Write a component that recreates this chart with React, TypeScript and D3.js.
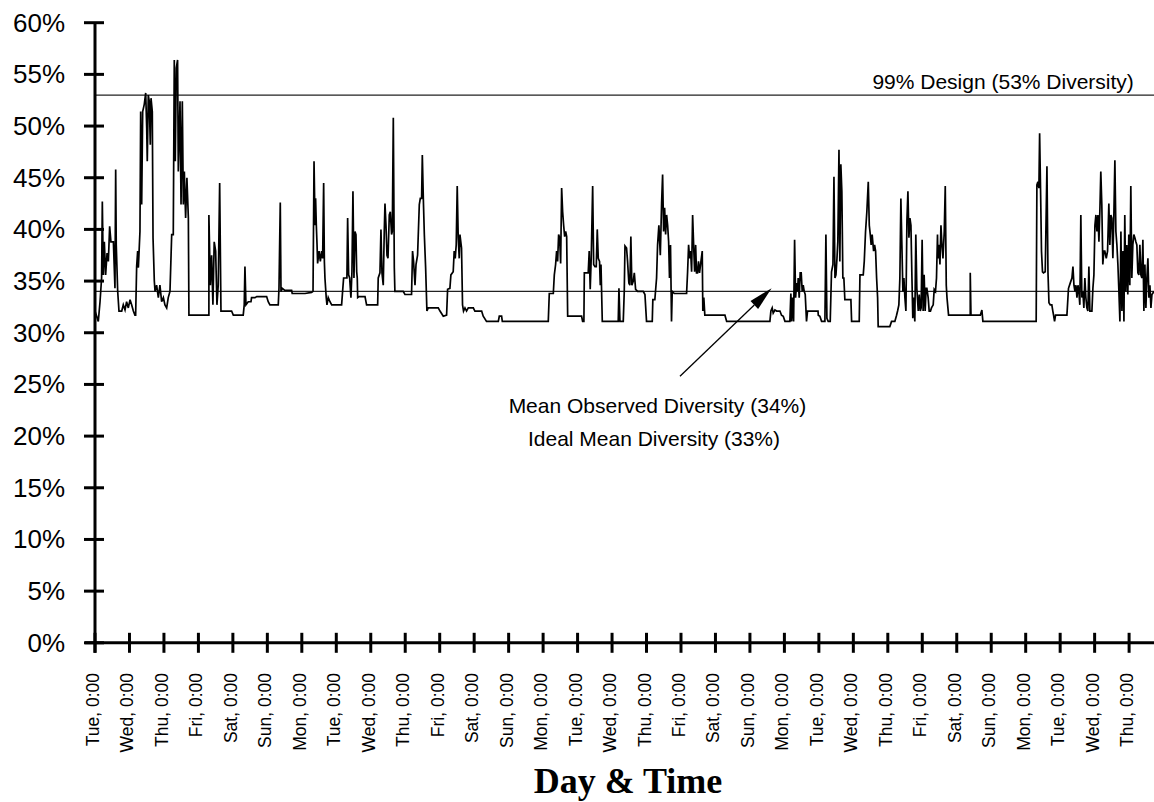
import * as d3 from "d3";
import React from "react";

// [hours since Tue 0:00, diversity %]
const weekOne: [number, number][] = [
  [0, 32.1], [2.3, 31.1], [3.5, 33.0], [4.6, 35.3], [5.1, 42.7], [5.8, 35.6], [6.5, 38.8], [7.4, 35.6],
  [8.4, 37.7], [9.3, 36.9], [10.2, 40.3], [11.1, 38.8], [12.8, 38.8], [13.9, 34.3], [14.4, 45.8], [14.8, 38.5],
  [15.8, 34.0], [16.7, 32.1], [18.6, 32.1], [19.7, 32.7], [20.9, 32.2], [22.0, 33.0], [23.2, 32.4], [24.4, 33.2],
  [25.5, 32.7], [26.7, 32.1], [27.8, 31.7], [28.3, 31.7], [29.0, 36.4], [29.7, 37.9], [30.2, 36.3], [31.3, 39.8],
  [31.8, 51.4], [32.5, 42.4], [33.2, 51.4], [34.3, 52.1], [35.3, 53.2], [36.0, 49.8], [36.4, 46.6], [37.1, 53.0],
  [37.8, 52.4], [38.5, 48.2], [39.0, 52.7], [39.9, 51.4], [40.4, 39.2], [41.3, 35.0], [41.8, 34.0], [42.9, 34.6],
  [44.1, 33.4], [45.2, 34.6], [46.4, 33.0], [47.6, 33.4], [48.7, 32.7], [49.9, 32.4], [51.0, 33.4], [52.2, 34.0],
  [53.4, 39.5], [54.5, 39.5], [55.2, 56.4], [55.9, 46.6], [56.6, 55.6], [57.5, 56.4], [58.0, 45.6], [59.2, 52.4],
  [59.9, 42.4], [60.8, 52.4], [61.5, 42.4], [62.2, 45.6], [63.1, 41.1], [64.0, 45.0], [65.0, 41.1], [65.4, 31.7],
  [79.3, 31.7], [79.3, 41.4], [80.3, 34.6], [81.2, 37.5], [82.1, 32.7], [83.0, 38.8], [84.0, 37.9], [84.9, 32.7],
  [85.8, 34.6], [86.8, 44.5], [87.7, 32.1], [95.1, 32.1], [96.3, 31.7], [103.2, 31.7], [103.9, 32.7], [104.4, 36.4],
  [105.1, 32.7], [106.7, 33.0], [108.6, 33.0], [109.0, 33.4], [111.4, 33.4], [112.6, 33.5], [119.5, 33.5], [120.6, 33.0],
  [121.8, 32.7], [127.6, 32.7], [128.1, 34.3], [129.0, 42.6], [129.5, 34.0], [130.4, 34.3], [132.2, 34.1], [136.9, 34.1],
  [137.3, 33.8],
];

const weekTwo: [number, number][] = [
  [146.2, 33.8], [150.8, 33.9], [151.8, 34.0], [152.5, 46.6], [153.2, 40.4], [153.6, 43.0], [154.1, 40.4], [154.6, 38.5],
  [155.0, 36.7], [156.0, 37.9], [156.9, 36.9], [157.8, 37.9], [158.5, 37.2], [159.2, 44.5], [159.7, 36.9], [160.1, 35.3],
  [161.0, 33.4], [161.5, 32.7], [162.4, 33.4], [163.6, 33.0], [164.8, 32.7], [171.7, 32.7], [172.4, 34.0], [173.1, 35.3],
  [175.4, 35.3], [175.9, 41.1], [176.6, 35.6], [177.3, 35.3], [178.2, 33.4], [178.9, 35.9], [179.6, 43.7], [180.3, 35.3],
  [181.0, 39.8], [181.7, 39.5], [182.2, 35.9], [182.6, 35.3], [182.9, 33.4], [183.8, 33.5], [188.0, 33.5], [189.1, 32.7],
  [196.8, 32.7], [197.2, 35.3], [198.4, 35.8], [199.1, 40.0], [199.8, 35.8], [200.7, 34.6], [201.4, 39.8], [201.9, 42.5],
  [202.6, 40.4], [203.3, 37.5], [204.0, 37.2], [204.9, 41.4], [205.6, 41.7], [206.5, 39.5], [207.0, 39.8], [207.7, 50.8],
  [208.4, 36.3], [208.8, 34.0], [214.6, 34.0], [215.8, 33.7], [220.4, 33.7], [221.1, 37.9], [221.8, 36.9], [222.8, 34.6],
  [223.5, 36.6], [224.6, 37.5], [225.8, 42.4], [226.5, 43.0], [227.4, 43.0], [227.9, 47.2], [228.6, 43.0], [229.3, 39.5],
  [230.2, 36.3], [231.1, 32.1], [232.0, 32.4], [239.0, 32.4], [240.2, 32.1], [242.5, 31.6], [244.8, 31.7], [245.5, 34.2],
  [247.1, 34.3], [247.8, 35.6], [249.4, 35.9], [250.1, 37.9], [250.8, 37.2], [251.5, 38.5], [252.2, 44.2], [252.9, 39.2],
  [253.6, 37.2], [254.1, 39.5], [255.2, 38.2], [255.9, 32.7], [256.6, 32.1], [257.6, 32.4], [258.7, 32.1], [259.9, 32.4],
  [263.4, 32.4], [264.5, 32.1], [269.2, 32.1], [270.3, 31.6], [272.6, 31.1], [280.8, 31.1], [281.5, 31.6], [283.1, 31.6],
  [283.6, 31.1],
];

const weekThree: [number, number][] = [
  [292.4, 31.1], [315.6, 31.1], [316.3, 33.8], [319.1, 33.8], [319.8, 35.6], [320.7, 36.6], [321.4, 37.9], [322.1, 36.9],
  [322.8, 39.5], [323.5, 39.2], [324.2, 36.7], [324.9, 44.0], [325.6, 41.7], [326.3, 40.4], [327.0, 39.3], [327.7, 39.8],
  [328.4, 39.3], [329.1, 31.6], [338.8, 31.6], [339.5, 31.1], [340.4, 31.1], [340.7, 35.8], [343.4, 35.8], [344.1, 37.9],
  [344.8, 34.2], [345.5, 37.2], [346.5, 44.2], [347.2, 36.6], [348.1, 36.4], [349.0, 36.4], [349.7, 40.0], [350.4, 37.2],
  [351.3, 36.9], [351.8, 34.6], [352.3, 36.6], [353.2, 31.1], [364.3, 31.1], [364.8, 34.3], [365.5, 31.1], [367.8, 31.1],
  [368.5, 34.0], [369.0, 38.4], [370.1, 38.2], [370.8, 36.9], [371.7, 34.8], [372.4, 34.6], [373.1, 39.3], [373.8, 34.6],
  [374.8, 35.0], [375.5, 35.8], [376.4, 34.2], [377.8, 34.0], [381.7, 34.0], [382.9, 33.7], [384.0, 31.1], [388.0, 31.1],
  [388.4, 33.2], [389.8, 33.2], [391.0, 35.3], [391.7, 38.5], [392.6, 40.4], [393.6, 37.5], [394.5, 42.5], [395.2, 45.3],
  [395.9, 39.8], [396.6, 42.1], [397.3, 39.5], [398.0, 41.4], [398.7, 40.4], [399.4, 38.8], [400.0, 35.3], [400.7, 38.5],
  [401.4, 31.1], [401.9, 34.0], [403.3, 33.8], [411.9, 33.8], [412.6, 35.9], [413.3, 38.5], [414.0, 37.2], [414.7, 37.9],
  [415.4, 35.9], [416.1, 41.4], [416.8, 38.5], [417.5, 35.9], [418.2, 38.5], [418.8, 35.8], [419.5, 35.8], [420.2, 36.9],
  [420.9, 35.8], [421.9, 36.9], [422.8, 37.9], [423.2, 32.1], [423.9, 33.4], [424.6, 31.7],
];

const weekFour: [number, number][] = [
  [438.6, 31.7], [439.8, 31.1], [469.9, 31.1], [470.6, 32.1], [471.5, 32.4], [472.2, 31.9], [473.4, 32.2], [474.6, 32.1],
  [476.9, 32.1], [478.0, 31.7], [479.2, 31.6], [480.4, 31.1], [483.8, 31.1], [484.5, 33.8], [485.0, 31.1], [485.7, 33.4],
  [486.4, 31.1], [487.1, 39.0], [487.8, 33.4], [488.5, 34.8], [489.2, 34.0], [489.6, 35.3], [490.3, 33.4], [491.0, 35.8],
  [491.7, 35.8], [492.4, 34.0], [493.1, 34.6], [493.8, 34.0], [494.5, 33.7], [495.4, 31.1], [496.1, 32.1], [497.8, 32.1],
  [503.4, 32.1], [503.6, 31.7], [504.7, 31.6], [505.9, 31.1], [508.2, 31.1], [508.9, 39.5], [509.6, 31.4], [510.5, 31.1],
  [511.9, 31.1], [512.8, 35.9], [513.8, 36.6], [514.5, 45.1], [515.2, 35.3], [515.9, 35.6], [516.6, 37.2], [517.2, 38.8],
  [518.0, 47.7], [518.6, 36.9], [519.3, 46.3], [520.0, 43.7], [520.7, 35.3], [521.4, 35.3], [522.1, 33.2], [526.3, 33.2],
  [526.8, 31.1], [532.1, 31.1], [532.6, 35.6], [534.9, 35.6], [535.6, 36.9], [536.5, 39.8], [537.4, 41.7], [538.4, 44.6],
  [539.1, 40.4], [539.8, 39.5], [540.4, 38.5], [541.1, 39.5], [542.1, 37.9], [542.8, 38.5], [543.5, 37.9], [544.2, 35.3],
  [544.9, 33.4], [545.3, 30.6], [553.4, 30.6], [554.6, 31.1], [556.9, 31.1], [558.1, 31.7], [558.8, 32.1], [559.7, 32.7],
  [560.4, 35.3], [561.1, 43.0], [561.8, 38.5], [562.5, 34.0], [563.2, 35.3], [563.9, 33.4], [564.6, 32.1], [565.3, 40.8],
  [566.0, 43.7], [566.7, 39.2], [567.4, 41.1], [568.1, 40.4], [568.8, 35.3], [569.4, 31.4], [570.1, 33.4], [570.8, 31.1],
  [571.5, 39.5], [572.2, 34.3], [573.2, 32.1], [573.9, 33.7], [574.6, 32.1], [575.2, 32.4], [575.9, 39.0], [576.6, 32.1],
  [577.3, 35.6], [578.0, 32.1], [578.7, 34.3], [579.2, 34.3], [580.1, 33.4], [580.8, 32.1], [581.7, 32.1], [582.4, 32.4],
  [583.6, 32.7], [584.3, 34.2], [585.2, 34.0], [585.9, 35.3], [586.6, 39.5],
];

const weekFive: [number, number][] = [
  [586.9, 37.2], [587.6, 38.5], [588.3, 36.6], [589.0, 40.4], [589.7, 38.5], [590.4, 37.2], [591.3, 39.8], [592.0, 44.2],
  [592.7, 34.6], [593.2, 33.4], [594.3, 31.7], [609.4, 31.7], [609.4, 35.8], [609.9, 31.7], [616.4, 31.7], [617.5, 32.2],
  [618.2, 31.1], [655.3, 31.1], [655.8, 44.3], [656.5, 44.6], [657.2, 44.0], [657.7, 49.3], [658.4, 43.4], [659.0, 37.9],
  [659.7, 35.9], [660.4, 35.8], [661.6, 35.9], [662.8, 46.1], [663.5, 35.9], [664.2, 32.9], [665.1, 32.7], [666.2, 32.7],
  [666.9, 32.1], [667.4, 31.7], [668.1, 31.1], [668.8, 31.7], [676.7, 31.7], [677.8, 34.3], [679.0, 34.8], [680.2, 35.3],
  [680.9, 36.4], [681.6, 34.6], [682.3, 34.0], [683.0, 34.6], [683.7, 33.4], [684.4, 34.6], [685.0, 34.0], [685.7, 32.7],
  [686.4, 41.4], [687.1, 33.4], [687.8, 34.0], [688.5, 32.4], [689.2, 35.3], [689.9, 33.4], [690.6, 32.4], [691.3, 32.1],
  [692.0, 36.4], [692.7, 32.1], [694.1, 32.1], [694.8, 34.3], [695.5, 35.6], [696.2, 40.4], [696.9, 41.4], [697.6, 39.8],
  [698.3, 41.4], [699.0, 38.8], [699.7, 42.1], [700.3, 45.6], [701.0, 42.4], [701.7, 36.6], [702.4, 37.9], [703.1, 37.9],
  [704.1, 37.2], [705.0, 37.9], [705.9, 42.5], [706.6, 38.5], [707.3, 41.4], [708.0, 41.1], [708.7, 37.2], [709.4, 41.4],
  [710.1, 46.7], [710.8, 39.8], [711.5, 38.5], [712.2, 36.6], [712.9, 34.0], [713.6, 31.1], [714.3, 39.8], [715.0, 32.1],
  [715.7, 37.9], [716.4, 31.1], [717.0, 41.4], [717.7, 34.0], [718.4, 38.5], [719.1, 33.7], [719.8, 39.5], [720.5, 34.6],
  [721.2, 44.2], [721.9, 35.3], [722.6, 38.5], [723.3, 39.5], [724.0, 39.2], [724.7, 38.8], [725.4, 38.5], [726.1, 35.8],
  [726.8, 35.6], [727.5, 38.5], [728.2, 35.6], [728.9, 35.3], [729.6, 39.0], [730.3, 32.1], [731.0, 36.6], [731.7, 32.4],
  [732.4, 35.3], [733.1, 37.2], [733.8, 33.4], [734.5, 34.6], [735.2, 32.4], [735.9, 33.7], [737.3, 34.0],
];

const dayNames = ["Tue", "Wed", "Thu", "Fri", "Sat", "Sun", "Mon"];
const dayCount = 31;
const yTicks = [0, 5, 10, 15, 20, 25, 30, 35, 40, 45, 50, 55, 60];
const designLevel = 53;
const meanLevel = 34;

const sans = "'Liberation Sans', Arial, Helvetica, sans-serif";

function App() {
  const width = 1154;
  const height = 802;

  const x = d3.scaleLinear().domain([0, dayCount * 24]).range([95, 95 + dayCount * 34.47]);
  const y = d3.scaleLinear().domain([0, 60]).range([642.8, 22.7]);

  const series = [...weekOne, ...weekTwo, ...weekThree, ...weekFour, ...weekFive];
  const line = d3
    .line<[number, number]>()
    .x((d) => x(d[0]))
    .y((d) => y(d[1]));

  const dayTicks = d3.range(0, dayCount).map((i) => i * 24);

  // arrow pointing at the mean line
  const tail = [x(407.3), y(25.8)];
  const tip = [x(471.1), y(34.3)];
  const dx = tip[0] - tail[0];
  const dy = tip[1] - tail[1];
  const len = Math.hypot(dx, dy);
  const ux = dx / len;
  const uy = dy / len;
  const bx = tip[0] - ux * 24;
  const by = tip[1] - uy * 24;
  const head = `${tip[0]},${tip[1]} ${bx - uy * 5.5},${by + ux * 5.5} ${bx + uy * 5.5},${by - ux * 5.5}`;

  const axisLeft = x(0);
  const right = width;

  return (
    <svg
      width={width}
      height={height}
      style={{ position: "absolute", left: 0, top: 0, background: "#fff" }}
    >
      {/* reference lines */}
      <line x1={axisLeft} x2={right} y1={y(designLevel)} y2={y(designLevel)} stroke="#222" strokeWidth={1.3} />
      <line x1={axisLeft} x2={right} y1={y(meanLevel)} y2={y(meanLevel)} stroke="#222" strokeWidth={1.3} />

      {/* data */}
      <path d={line(series) || ""} fill="none" stroke="#000" strokeWidth={1.7} strokeLinejoin="miter" />

      {/* y axis */}
      <line x1={axisLeft} x2={axisLeft} y1={y(60)} y2={y(0) + 10} stroke="#000" strokeWidth={3} />
      {yTicks.map((t) => (
        <g key={t}>
          <line x1={axisLeft - 11} x2={axisLeft + 9} y1={y(t)} y2={y(t)} stroke="#000" strokeWidth={3} />
          <text x={65} y={y(t) + 9} textAnchor="end" fontFamily={sans} fontSize={26} fill="#000">
            {t}%
          </text>
        </g>
      ))}

      {/* x axis */}
      <line x1={axisLeft - 10} x2={right} y1={y(0)} y2={y(0)} stroke="#000" strokeWidth={3} />
      {dayTicks.map((t, i) => (
        <g key={t}>
          <line x1={x(t)} x2={x(t)} y1={y(0) - 10} y2={y(0) + 10} stroke="#000" strokeWidth={3} />
          <text
            transform={`translate(${x(t) + 4},673) rotate(-90)`}
            textAnchor="end"
            fontFamily={sans}
            fontSize={17.5}
            fill="#000"
          >
            {`${dayNames[i % 7]}, 0:00`}
          </text>
        </g>
      ))}

      {/* annotations */}
      <text x={x(723.3)} y={y(53.6)} textAnchor="end" fontFamily={sans} fontSize={21} fill="#000">
        99% Design (53% Diversity)
      </text>
      <line x1={tail[0]} y1={tail[1]} x2={bx} y2={by} stroke="#000" strokeWidth={1.3} />
      <polygon points={head} fill="#000" />
      <text x={x(391.6)} y={y(22.2)} textAnchor="middle" fontFamily={sans} fontSize={21} fill="#000">
        Mean Observed Diversity (34%)
      </text>
      <text x={x(389.2)} y={y(19.0)} textAnchor="middle" fontFamily={sans} fontSize={21} fill="#000">
        Ideal Mean Diversity (33%)
      </text>

      {/* axis title */}
      <text
        x={628}
        y={793}
        textAnchor="middle"
        fontFamily="'Liberation Serif', 'Times New Roman', serif"
        fontWeight="bold"
        fontSize={36}
        fill="#000"
      >
        Day &amp; Time
      </text>
    </svg>
  );
}

export default App;
